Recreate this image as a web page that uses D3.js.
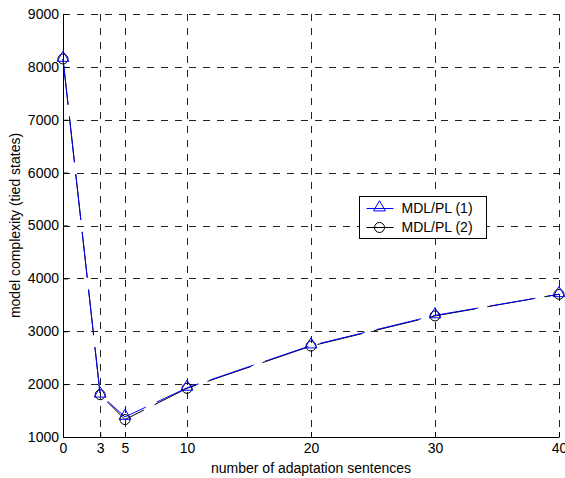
<!DOCTYPE html>
<html>
<head>
<meta charset="utf-8">
<script src="https://cdn.jsdelivr.net/npm/d3@7"></script>
<style>
  body { margin: 0; background: #fff; }
  text { font-family: "Liberation Sans", Arial, sans-serif; }
</style>
</head>
<body>
<svg id="chart" width="565" height="478"></svg>
<script>
(function(){
const width = 565;
const height = 478;

// --- Data ---
const sentences = [0, 3, 5, 10, 20, 30, 40];
const mdl1 = [8150, 1800, 1380, 1930, 2730, 3300, 3700];
const mdl2 = [8150, 1800, 1330, 1920, 2720, 3290, 3700];
const xTicks = [0, 3, 5, 10, 20, 30, 40];
const yTicks = [1000, 2000, 3000, 4000, 5000, 6000, 7000, 8000, 9000];

const margin = { top: 14, right: 6, bottom: 41, left: 63 };
const svg = d3.select("#chart");

const x = d3.scaleLinear().domain([0, 40]).range([margin.left, width - margin.right]);
const y = d3.scaleLinear().domain([1000, 9000]).range([height - margin.bottom, margin.top]);

// --- Grid ---
const grid = svg.append("g")
  .attr("stroke", "#222")
  .attr("stroke-width", 1)
  .attr("stroke-dasharray", "7,7");

grid.selectAll("line.v")
  .data(xTicks.filter(d => d > 0))
  .enter()
  .append("line")
  .attr("x1", d => Math.round(x(d)) + 0.5)
  .attr("x2", d => Math.round(x(d)) + 0.5)
  .attr("y1", y(9000))
  .attr("y2", y(1000));

grid.selectAll("line.h")
  .data(yTicks.filter(d => d > 1000))
  .enter()
  .append("line")
  .attr("y1", d => Math.round(y(d)) + 0.5)
  .attr("y2", d => Math.round(y(d)) + 0.5)
  .attr("x1", x(0))
  .attr("x2", x(40));

// --- Axes ---
const xAxis = svg.append("g")
  .attr("transform", `translate(0,${y(1000)})`)
  .call(d3.axisBottom(x).tickValues(xTicks).tickSizeInner(-5).tickSizeOuter(0).tickPadding(6));

const yAxis = svg.append("g")
  .attr("transform", `translate(${x(0)},0)`)
  .call(d3.axisLeft(y).tickValues(yTicks).tickSizeInner(-5).tickSizeOuter(0).tickPadding(4).tickFormat(d3.format("d")));

[xAxis, yAxis].forEach(a => {
  a.select(".domain").attr("stroke", "#000");
  a.selectAll(".tick line").attr("stroke", "#000");
  a.selectAll(".tick text")
    .attr("fill", "#000")
    .attr("font-size", 14)
    .attr("font-family", "Liberation Sans, Arial, sans-serif");
});

// --- Series lines ---
const line = d3.line()
  .x((d, i) => x(sentences[i]))
  .y(d => y(d));

svg.append("path")
  .datum(mdl2)
  .attr("d", line)
  .attr("fill", "none")
  .attr("stroke", "#000")
  .attr("stroke-width", 1)
  .attr("stroke-dasharray", "46,12");

svg.append("path")
  .datum(mdl1)
  .attr("d", line)
  .attr("fill", "none")
  .attr("stroke", "#0000ff")
  .attr("stroke-width", 1)
  .attr("stroke-dasharray", "46,12");

// --- Markers ---
const tri = d3.symbol().type(d3.symbolTriangle).size(60);

svg.append("g")
  .selectAll("circle")
  .data(mdl2)
  .enter()
  .append("circle")
  .attr("cx", (d, i) => x(sentences[i]))
  .attr("cy", d => y(d))
  .attr("r", 5)
  .attr("fill", "none")
  .attr("stroke", "#000");

svg.append("g")
  .selectAll("path")
  .data(mdl1)
  .enter()
  .append("path")
  .attr("d", tri)
  .attr("transform", (d, i) => `translate(${x(sentences[i])},${y(d) - 1})`)
  .attr("fill", "none")
  .attr("stroke", "#0000ff");

// --- Legend ---
const legend = svg.append("g").attr("transform", "translate(359.5,196.5)");
legend.append("rect")
  .attr("width", 127)
  .attr("height", 42)
  .attr("fill", "#fff")
  .attr("stroke", "#000");

const items = [
  { label: "MDL/PL (1)", color: "#0000ff", marker: "tri" },
  { label: "MDL/PL (2)", color: "#000", marker: "circle" }
];

items.forEach((it, i) => {
  const g = legend.append("g").attr("transform", `translate(0,${12 + i * 19})`);
  g.append("line")
    .attr("x1", 7).attr("x2", 34)
    .attr("stroke", it.color);
  if (it.marker === "tri") {
    g.append("path").attr("d", tri).attr("transform", "translate(20,-1)")
      .attr("fill", "none").attr("stroke", it.color);
  } else {
    g.append("circle").attr("cx", 20).attr("r", 5)
      .attr("fill", "none").attr("stroke", it.color);
  }
  g.append("text")
    .attr("x", 42)
    .attr("dy", "0.35em")
    .attr("font-size", 14)
    .text(it.label);
});

// --- Labels ---
svg.append("text")
  .attr("x", (x(0) + x(40)) / 2)
  .attr("y", 473)
  .attr("text-anchor", "middle")
  .attr("font-size", 14)
  .text("number of adaptation sentences");

svg.append("text")
  .attr("transform", `translate(20,${(y(1000) + y(9000)) / 2}) rotate(-90)`)
  .attr("text-anchor", "middle")
  .attr("font-size", 14)
  .text("model complexity (tied states)");
})();
</script>
</body>
</html>
